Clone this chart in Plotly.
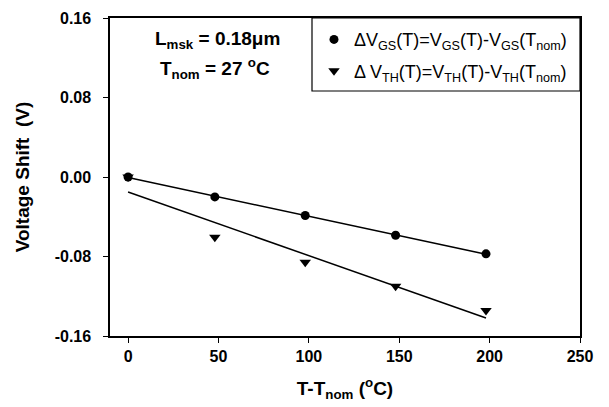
import numpy as np
import plotly.graph_objects as go

# Data
temp_shift = [0, 48, 98, 148, 198]
dvgs = [0.0, -0.020, -0.0387, -0.0586, -0.0773]
dvth = [0.0, -0.0606, -0.0857, -0.110, -0.1343]
x_ticks = [0, 50, 100, 150, 200, 250]
x_ticklabels = ["0", "50", "100", "150", "200", "250"]
y_ticks = [-0.16, -0.08, 0.0, 0.08, 0.16]
y_ticklabels = ["-0.16", "-0.08", "0.00", "0.08", "0.16"]

# Linear fits through the data
xf = np.array([temp_shift[0], temp_shift[-1]], dtype=float)
p_gs = np.polyfit(temp_shift, dvgs, 1)
p_th = np.polyfit(temp_shift, dvth, 1)

font = "Liberation Sans, Arial, sans-serif"

fig = go.Figure()
fig.add_trace(go.Scatter(x=xf, y=np.polyval(p_gs, xf), mode="lines",
                         line=dict(color="black", width=1.5), showlegend=False, hoverinfo="skip"))
fig.add_trace(go.Scatter(x=xf, y=np.polyval(p_th, xf), mode="lines",
                         line=dict(color="black", width=1.5), showlegend=False, hoverinfo="skip"))
fig.add_trace(go.Scatter(x=temp_shift, y=dvgs, mode="markers", legendgroup="gs",
                         marker=dict(symbol="circle", size=9, color="black"),
                         name="\u0394V<sub>GS</sub>(T)=V<sub>GS</sub>(T)-V<sub>GS</sub>(T<sub>nom</sub>)"))
fig.add_trace(go.Scatter(x=temp_shift, y=dvth, mode="markers", legendgroup="th",
                         marker=dict(symbol="triangle-down", size=10, color="black"),
                         name="\u0394 V<sub>TH</sub>(T)=V<sub>TH</sub>(T)-V<sub>TH</sub>(T<sub>nom</sub>)"))

fig.add_annotation(x=(217 - 110) / 470, y=(336 - 40) / 318, xref="paper", yref="paper",
                   xanchor="center", yanchor="middle", showarrow=False,
                   text="<b>L<sub>msk</sub> = 0.18\u03bcm</b>",
                   font=dict(family=font, size=19, color="black"))
fig.add_annotation(x=(215 - 110) / 470, y=(336 - 69) / 318, xref="paper", yref="paper",
                   xanchor="center", yanchor="middle", showarrow=False,
                   text="<b>T<sub>nom</sub> = 27 <sup>o</sup>C</b>",
                   font=dict(family=font, size=19, color="black"))

# legend frame
fig.add_shape(type="rect", xref="paper", yref="paper",
              x0=(312 - 110) / 470, x1=1, y0=(336 - 91) / 318, y1=1,
              line=dict(color="black", width=1.2), fillcolor="white", layer="below")

fig.update_layout(
    width=609, height=407,
    margin=dict(l=110, r=29, t=18, b=71, autoexpand=False),
    paper_bgcolor="white", plot_bgcolor="white",
    font=dict(family=font, color="black"),
    legend=dict(x=(314 - 110) / 470, y=0.99, xanchor="left", yanchor="top",
                borderwidth=0, bgcolor="rgba(0,0,0,0)",
                traceorder="grouped",
                font=dict(family=font, size=18, color="black"),
                itemwidth=30, tracegroupgap=5),
    xaxis=dict(range=[-10, 250], tickvals=x_ticks,
               ticktext=["<b>%s</b>" % t for t in x_ticklabels],
               ticks="outside", ticklen=5, automargin=False,
               tickcolor="black", showline=True, linecolor="black", linewidth=1.5,
               mirror=True, showgrid=False, zeroline=False,
               tickfont=dict(family=font, size=16, color="black"),
               title=dict(text="<b>T-T<sub>nom</sub> (<sup>o</sup>C)</b>",
                          font=dict(family=font, size=19, color="black"), standoff=18)),
    yaxis=dict(range=[-0.16, 0.16], tickvals=y_ticks,
               ticktext=["<b>%s</b>\u00a0\u00a0" % t for t in y_ticklabels],
               ticks="outside", ticklen=5, tickcolor="black", automargin=False,
               showline=True, linecolor="black", linewidth=1.5, mirror=True,
               showgrid=False, zeroline=False,
               tickfont=dict(family=font, size=16, color="black"),
               title=dict(text="<b>Voltage Shift  (V)</b>",
                          font=dict(family=font, size=19, color="black"), standoff=20)),
)

fig.write_html("out.html")
